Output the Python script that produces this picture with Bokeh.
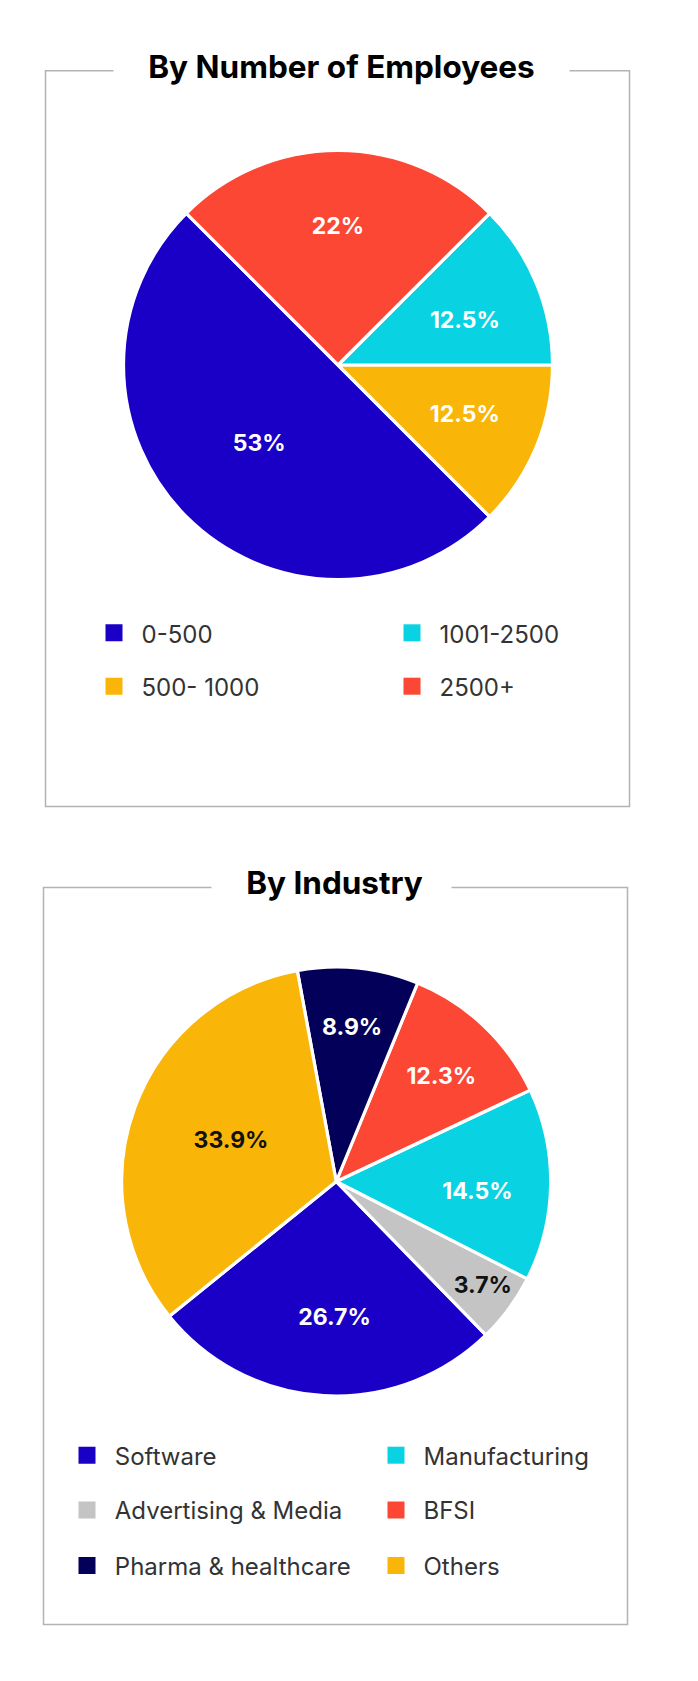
import math
from bokeh.plotting import figure
from bokeh.models import Range1d, ColumnDataSource
from bokeh.core.properties import value
from bokeh.embed import file_html
from bokeh.resources import INLINE

# ---------------- data ----------------
# Chart 1: By Number of Employees (slice order: counter-clockwise)
emp_categories = ["0-500", "500- 1000", "1001-2500", "2500+"]
emp_shares = [50.0, 12.5, 12.5, 25.0]          # slice sizes as drawn
emp_labels = ["53%", "12.5%", "12.5%", "22%"]  # printed labels
emp_colors = ["#1a00c6", "#f9b608", "#09d3e2", "#fb4734"]
emp_label_colors = ["#ffffff", "#ffffff", "#ffffff", "#ffffff"]
emp_legend_rows = [["0-500", "1001-2500"], ["500- 1000", "2500+"]]

# Chart 2: By Industry (slice order: counter-clockwise)
ind_categories = ["Software", "Advertising & Media", "Manufacturing", "BFSI",
                  "Pharma & healthcare", "Others"]
ind_shares = [26.5, 5.2, 14.5, 11.8, 9.1, 32.9]   # slice sizes as drawn
ind_labels = ["26.7%", "3.7%", "14.5%", "12.3%", "8.9%", "33.9%"]
ind_colors = ["#1a00c6", "#c4c4c4", "#09d3e2", "#fb4734", "#03005a", "#f9b608"]
ind_label_colors = ["#ffffff", "#111111", "#ffffff", "#ffffff", "#ffffff", "#111111"]
ind_legend_rows = [["Software", "Manufacturing"],
                   ["Advertising & Media", "BFSI"],
                   ["Pharma & healthcare", "Others"]]

# ---------------- layout / style ----------------
PAGE_H = 1681
FONT = "Inter"
W, H = 682, 1665
BASE_FIX = 0.42  # empirical shift of the alphabetic baseline (em)

# label placement (style): radial fraction and angular nudge (deg) per slice
EMP_LABEL_FRAC = [0.52, 0.636, 0.626, 0.64]
EMP_LABEL_NUDGE = [0.0, 0.8, -3.4, 0.0]
IND_LABEL_FRAC = [0.64, 0.84, 0.66, 0.69, 0.72, 0.525]
IND_LABEL_NUDGE = [2.7, 0.8, -3.5, -1.7, 0.0, -0.6]

p = figure(width=W, height=H, x_range=Range1d(0, W), y_range=Range1d(PAGE_H - H, PAGE_H),
           output_backend="svg", toolbar_location=None,
           x_axis_type=None, y_axis_type=None, min_border=0)
p.grid.visible = False
p.outline_line_color = None
p.background_fill_color = "white"
p.border_fill_color = "white"


def Y(py):
    return PAGE_H - py


def draw_box(left, right, top, bottom, gap_l, gap_r):
    xs = [gap_l, left, left, right, right, gap_r]
    ys = [Y(top), Y(top), Y(bottom), Y(bottom), Y(top), Y(top)]
    p.line(xs, ys, line_color="#b3b3b3", line_width=1.5, line_join="miter")


def draw_title(text, cx, baseline, fs=31.5):
    p.text(x=[cx], y=[Y(baseline) + BASE_FIX * fs], text=[text], text_font=value(FONT),
           text_font_size=f"{fs}px", text_font_style="bold", text_color="#000000",
           text_align="center", text_baseline="alphabetic")


def draw_pie(cx, cy, r, start_deg, shares, colors, labels, label_colors,
             fracs, nudges, fs=23):
    total = float(sum(shares))
    starts, ends, mids = [], [], []
    a = start_deg
    for s, n in zip(shares, nudges):
        b = a + s / total * 360.0
        starts.append(math.radians(a))
        ends.append(math.radians(b))
        mids.append(math.radians((a + b) / 2.0 + n))
        a = b
    src = ColumnDataSource(dict(start=starts, end=ends, color=colors))
    p.wedge(x=cx, y=Y(cy), radius=r, start_angle="start", end_angle="end",
            fill_color="color", line_color="white", line_width=3.2, source=src)
    lx = [cx + f * r * math.cos(m) for f, m in zip(fracs, mids)]
    ly = [Y(cy) + f * r * math.sin(m) - 0.364 * fs + BASE_FIX * fs
          for f, m in zip(fracs, mids)]
    lsrc = ColumnDataSource(dict(x=lx, y=ly, t=labels, c=label_colors))
    p.text(x="x", y="y", text="t", text_color="c", source=lsrc,
           text_font=value(FONT), text_font_size=f"{fs}px", text_font_style="bold",
           text_align="center", text_baseline="alphabetic")


def draw_legend(rows, categories, colors, sq_lefts, text_lefts, baselines, sq=17, fs=24):
    rx, ry, rc, tx, ty, tt = [], [], [], [], [], []
    for i, row in enumerate(rows):
        for j, name in enumerate(row):
            k = categories.index(name)
            rx.append(sq_lefts[j] + sq / 2.0)
            ry.append(Y(baselines[i] - 11))
            rc.append(colors[k])
            tx.append(text_lefts[j])
            ty.append(Y(baselines[i]) + BASE_FIX * fs)
            tt.append(name)
    p.rect(x=rx, y=ry, width=sq, height=sq, fill_color=rc, line_color=None)
    p.text(x=tx, y=ty, text=tt, text_font=value(FONT), text_font_size=f"{fs}px",
           text_color="#333333", text_align="left", text_baseline="alphabetic")


# ---- Chart 1 ----
draw_box(45, 629, 70.3, 806, 113, 569)
draw_title("By Number of Employees", 341, 79)
draw_pie(337.5, 364.5, 214.5, 135.0, emp_shares, emp_colors, emp_labels,
         emp_label_colors, EMP_LABEL_FRAC, EMP_LABEL_NUDGE)
draw_legend(emp_legend_rows, emp_categories, emp_colors,
            [105, 403], [141, 439], [643.3, 696.7])

# ---- Chart 2 ----
draw_box(43, 627, 887, 1624, 211, 451)
draw_title("By Industry", 334, 895)
draw_pie(335.7, 1181, 214.5, 218.9, ind_shares, ind_colors, ind_labels,
         ind_label_colors, IND_LABEL_FRAC, IND_LABEL_NUDGE)
draw_legend(ind_legend_rows, ind_categories, ind_colors,
            [78, 387], [114.3, 423], [1465.7, 1520.5, 1576])

open("out.html", "w").write(file_html(p, INLINE))
